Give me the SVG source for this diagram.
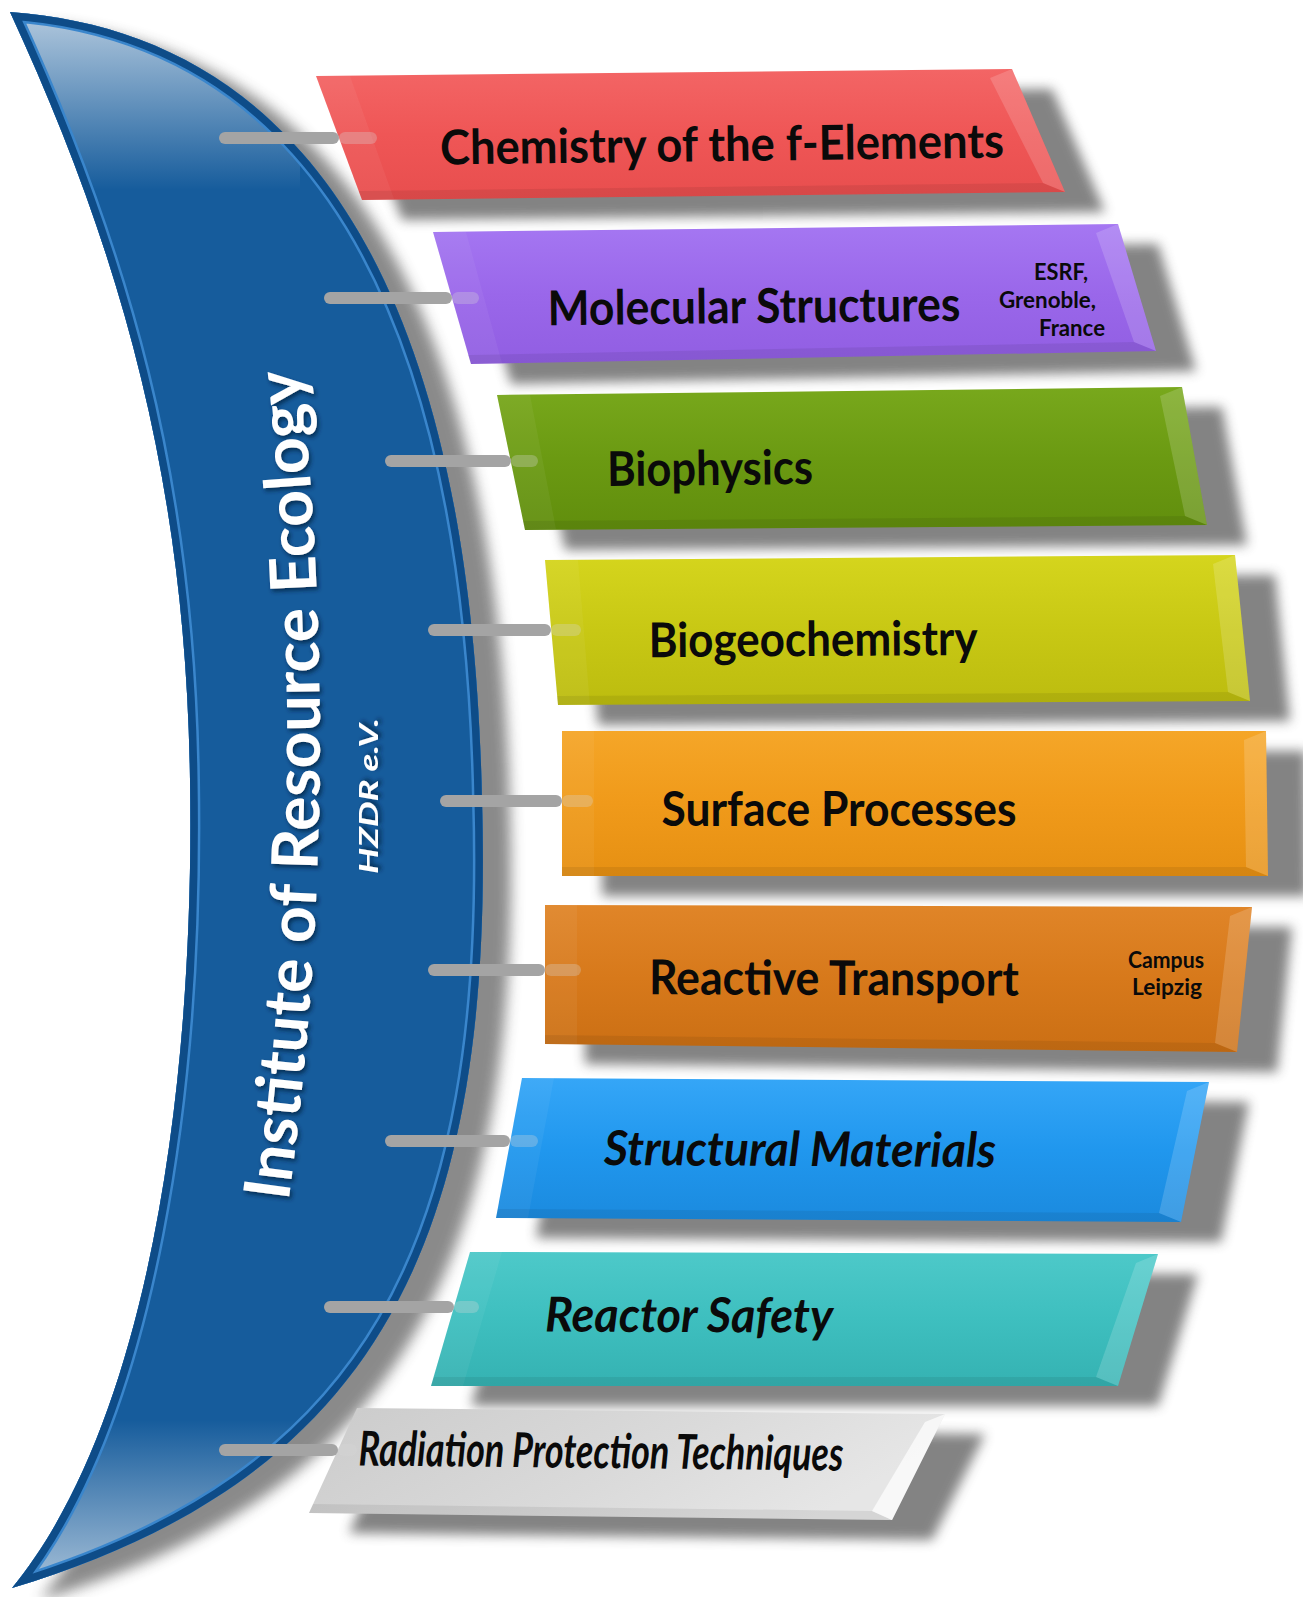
<svg xmlns="http://www.w3.org/2000/svg" width="1303" height="1597" viewBox="0 0 1303 1597">
<defs>
<style>
.lbl{font-family:Lato,"Open Sans","Liberation Sans",sans-serif;font-weight:700;fill:#0a0a0a;font-size:48px}
.it{font-style:italic}
.sm{font-size:23px}
.title{font-family:Lato,"Open Sans","Liberation Sans",sans-serif;font-weight:700;fill:#ffffff;font-size:64px}
.sub{font-family:Lato,"Open Sans","Liberation Sans",sans-serif;font-weight:700;font-style:italic;fill:#ffffff;font-size:27px}
.shd{fill:#767676;opacity:.9;filter:url(#blur)}
.bevR{fill:#ffffff;opacity:.16}
.bevB{fill:#000000;opacity:.07}
.bevL{fill:#ffffff;opacity:.05}
.conn{stroke:#a4a4a4;stroke-width:12;stroke-linecap:round;fill:none}
.connT{stroke:#d8d8d8;stroke-width:12;stroke-linecap:round;fill:none;opacity:.3}
</style>
<filter id="blur" x="-10%" y="-20%" width="120%" height="140%"><feGaussianBlur stdDeviation="6"/></filter>
<filter id="blurC" x="-20%" y="-5%" width="140%" height="110%"><feGaussianBlur stdDeviation="7"/></filter>
<filter id="tshadow" x="-10%" y="-30%" width="120%" height="160%"><feDropShadow dx="2" dy="3" stdDeviation="2" flood-color="#06223f" flood-opacity="0.75"/></filter>
<clipPath id="cres"><path d="M10,12 C260,30 470,220 482,800 C495,1250 370,1480 12,1588 C150,1420 195,1080 190,780 C186,480 120,250 10,12 Z"/></clipPath>
<linearGradient id="hlTop" gradientUnits="userSpaceOnUse" x1="0" y1="12" x2="0" y2="190"><stop offset="0" stop-color="#e8eef4" stop-opacity=".75"/><stop offset="1" stop-color="#e8eef4" stop-opacity="0"/></linearGradient>
<linearGradient id="hlBot" gradientUnits="userSpaceOnUse" x1="0" y1="1590" x2="0" y2="1420"><stop offset="0" stop-color="#e8eef4" stop-opacity=".7"/><stop offset="1" stop-color="#e8eef4" stop-opacity="0"/></linearGradient>
<linearGradient id="hlSide" gradientUnits="userSpaceOnUse" x1="0" y1="0" x2="260" y2="0"><stop offset="0" stop-color="#ffffff" stop-opacity=".9"/><stop offset="1" stop-color="#ffffff" stop-opacity="0"/></linearGradient>
<linearGradient id="g1" x1="0" y1="0" x2="0" y2="1"><stop offset="0" stop-color="#f36565"/><stop offset=".5" stop-color="#ef5656"/><stop offset="1" stop-color="#e84e4e"/></linearGradient>
<linearGradient id="g2" x1="0" y1="0" x2="0" y2="1"><stop offset="0" stop-color="#a577f2"/><stop offset=".5" stop-color="#9a67ea"/><stop offset="1" stop-color="#915ee2"/></linearGradient>
<linearGradient id="g3" x1="0" y1="0" x2="0" y2="1"><stop offset="0" stop-color="#78a81c"/><stop offset=".5" stop-color="#6b9a12"/><stop offset="1" stop-color="#618e0d"/></linearGradient>
<linearGradient id="g4" x1="0" y1="0" x2="0" y2="1"><stop offset="0" stop-color="#d5d51d"/><stop offset=".5" stop-color="#c8c814"/><stop offset="1" stop-color="#bcbc0f"/></linearGradient>
<linearGradient id="g5" x1="0" y1="0" x2="0" y2="1"><stop offset="0" stop-color="#f5a628"/><stop offset=".5" stop-color="#f09a1a"/><stop offset="1" stop-color="#e69013"/></linearGradient>
<linearGradient id="g6" x1="0" y1="0" x2="0" y2="1"><stop offset="0" stop-color="#e08528"/><stop offset=".5" stop-color="#d7791b"/><stop offset="1" stop-color="#cb6f14"/></linearGradient>
<linearGradient id="g7" x1="0" y1="0" x2="0" y2="1"><stop offset="0" stop-color="#35a6f7"/><stop offset=".5" stop-color="#2097ee"/><stop offset="1" stop-color="#1b8ade"/></linearGradient>
<linearGradient id="g8" x1="0" y1="0" x2="0" y2="1"><stop offset="0" stop-color="#4dc9c9"/><stop offset=".5" stop-color="#3ebfbf"/><stop offset="1" stop-color="#35b2b2"/></linearGradient>
<linearGradient id="g9" x1="0" y1="0" x2="1" y2="0.3"><stop offset="0" stop-color="#cbcbcb"/><stop offset=".6" stop-color="#dadada"/><stop offset="1" stop-color="#e6e6e6"/></linearGradient>
</defs>
<rect width="1303" height="1597" fill="#ffffff"/>

<g id="institute">
<path d="M10,12 C260,30 470,220 482,800 C495,1250 370,1480 12,1588 C150,1420 195,1080 190,780 C186,480 120,250 10,12 Z" transform="translate(28,12)" fill="#7e7e7e" opacity=".9" filter="url(#blurC)"/>
<path d="M10,12 C260,30 470,220 482,800 C495,1250 370,1480 12,1588 C150,1420 195,1080 190,780 C186,480 120,250 10,12 Z" fill="#165c9c"/>
<g clip-path="url(#cres)">
<rect x="0" y="0" width="300" height="200" fill="url(#hlTop)"/>
<rect x="0" y="1410" width="300" height="187" fill="url(#hlBot)"/>
<path d="M10,12 C260,30 470,220 482,800 C495,1250 370,1480 12,1588 C150,1420 195,1080 190,780 C186,480 120,250 10,12 Z" fill="none" stroke="#3a86cc" stroke-width="20"/>
<path d="M10,12 C260,30 470,220 482,800 C495,1250 370,1480 12,1588 C150,1420 195,1080 190,780 C186,480 120,250 10,12 Z" fill="none" stroke="#0e4c88" stroke-width="15"/>
</g>
<path id="arc" d="M288,1205 Q345,790 300,365" fill="none"/>
<text class="title" filter="url(#tshadow)"><textPath href="#arc" startOffset="50%" text-anchor="middle" textLength="835" lengthAdjust="spacingAndGlyphs">Institute of Resource Ecology</textPath></text>
<text class="sub" transform="translate(378,796) rotate(-90)" text-anchor="middle" textLength="156" lengthAdjust="spacingAndGlyphs" filter="url(#tshadow)">HZDR e.V.</text>
</g>

<g id="chemistry">
<polygon class="shd" points="356,96 1052,89 1105,212 402,220"/>
<polygon points="316,76 1012,69 1065,192 362,200" fill="url(#g1)"/>
<polygon class="bevL" points="316,76 350,76 394,199 362,200"/>
<polygon class="bevB" points="359,191 1043,183 1065,192 362,200"/>
<polygon class="bevR" points="1012,69 1065,192 1043,183 990,78"/>
<text class="lbl" x="722" y="161" font-size="46" text-anchor="middle" textLength="564" lengthAdjust="spacingAndGlyphs" transform="rotate(-0.7 722 146)">Chemistry of the f-Elements</text>
</g>

<g id="molecular">
<polygon class="shd" points="473,252 1158,244 1196,371 511,384"/>
<polygon points="433,232 1118,224 1156,351 471,364" fill="url(#g2)"/>
<polygon class="bevL" points="433,232 466,232 502,363 471,364"/>
<polygon class="bevB" points="468,355 1134,342 1156,351 471,364"/>
<polygon class="bevR" points="1118,224 1156,351 1134,342 1096,233"/>
<text class="lbl" x="754" y="323" text-anchor="middle" textLength="413" lengthAdjust="spacingAndGlyphs" transform="rotate(-0.6 754 305)">Molecular Structures</text>
<text class="lbl sm" x="1088" y="280" text-anchor="end" textLength="54" lengthAdjust="spacingAndGlyphs">ESRF,</text>
<text class="lbl sm" x="1096" y="308" text-anchor="end" textLength="97" lengthAdjust="spacingAndGlyphs">Grenoble,</text>
<text class="lbl sm" x="1105" y="336" text-anchor="end" textLength="66" lengthAdjust="spacingAndGlyphs">France</text>
</g>

<g id="biophysics">
<polygon class="shd" points="537,415 1222,407 1247,545 565,550"/>
<polygon points="497,395 1182,387 1207,525 525,530" fill="url(#g3)"/>
<polygon class="bevL" points="497,395 530,395 556,529 525,530"/>
<polygon class="bevB" points="523,521 1185,516 1207,525 525,530"/>
<polygon class="bevR" points="1182,387 1207,525 1185,516 1160,396"/>
<text class="lbl" x="710" y="485" text-anchor="middle" textLength="206" lengthAdjust="spacingAndGlyphs" transform="rotate(-0.6 710 467)">Biophysics</text>
</g>

<g id="biogeochemistry">
<polygon class="shd" points="585,580 1275,575 1290,721 598,725"/>
<polygon points="545,560 1235,555 1250,701 558,705" fill="url(#g4)"/>
<polygon class="bevL" points="545,560 578,560 590,705 558,705"/>
<polygon class="bevB" points="557,696 1228,692 1250,701 558,705"/>
<polygon class="bevR" points="1235,555 1250,701 1228,692 1213,564"/>
<text class="lbl" x="813" y="656" text-anchor="middle" textLength="329" lengthAdjust="spacingAndGlyphs" transform="rotate(-0.4 813 638)">Biogeochemistry</text>
</g>

<g id="surface">
<polygon class="shd" points="602,751 1306,751 1308,896 602,896"/>
<polygon points="562,731 1266,731 1268,876 562,876" fill="url(#g5)"/>
<polygon class="bevL" points="562,731 594,731 594,876 562,876"/>
<polygon class="bevB" points="562,867 1246,867 1268,876 562,876"/>
<polygon class="bevR" points="1266,731 1268,876 1246,867 1244,740"/>
<text class="lbl" x="839" y="826" text-anchor="middle" textLength="355" lengthAdjust="spacingAndGlyphs">Surface Processes</text>
</g>

<g id="reactive">
<polygon class="shd" points="585,925 1292,927 1277,1072 585,1064"/>
<polygon points="545,905 1252,907 1237,1052 545,1044" fill="url(#g6)"/>
<polygon class="bevL" points="545,905 577,905 577,1044 545,1044"/>
<polygon class="bevB" points="545,1035 1215,1043 1237,1052 545,1044"/>
<polygon class="bevR" points="1252,907 1237,1052 1215,1043 1230,916"/>
<text class="lbl" x="834" y="995" text-anchor="middle" textLength="370" lengthAdjust="spacingAndGlyphs" transform="rotate(0.2 834 977)">Reactive Transport</text>
<text class="lbl sm" x="1166" y="968" text-anchor="middle" textLength="76" lengthAdjust="spacingAndGlyphs">Campus</text>
<text class="lbl sm" x="1167" y="995" text-anchor="middle" textLength="70" lengthAdjust="spacingAndGlyphs">Leipzig</text>
</g>

<g id="structural">
<polygon class="shd" points="562,1098 1249,1102 1221,1242 536,1238"/>
<polygon points="522,1078 1209,1082 1181,1222 496,1218" fill="url(#g7)"/>
<polygon class="bevL" points="522,1078 554,1078 528,1218 496,1218"/>
<polygon class="bevB" points="498,1209 1159,1213 1181,1222 496,1218"/>
<polygon class="bevR" points="1209,1082 1181,1222 1159,1213 1187,1091"/>
<text class="lbl it" x="800" y="1166" text-anchor="middle" textLength="392" lengthAdjust="spacingAndGlyphs" transform="rotate(0.3 800 1148)">Structural Materials</text>
</g>

<g id="reactor">
<polygon class="shd" points="510,1272 1198,1274 1158,1406 471,1406"/>
<polygon points="470,1252 1158,1254 1118,1386 431,1386" fill="url(#g8)"/>
<polygon class="bevL" points="470,1252 502,1252 463,1386 431,1386"/>
<polygon class="bevB" points="434,1377 1096,1377 1118,1386 431,1386"/>
<polygon class="bevR" points="1158,1254 1118,1386 1096,1377 1136,1263"/>
<text class="lbl it" x="689" y="1332" text-anchor="middle" textLength="288" lengthAdjust="spacingAndGlyphs" transform="rotate(0.2 689 1314)">Reactor Safety</text>
</g>

<g id="radiation">
<polygon class="shd" points="397,1428 985,1434 932,1540 349,1533"/>
<polygon points="357,1408 945,1414 892,1520 309,1513" fill="url(#g9)"/>
<polygon class="bevB" points="313,1504 872,1511 892,1520 309,1513"/>
<polygon points="945,1414 892,1520 872,1511 925,1422" fill="#ffffff" opacity=".7"/>
<text class="lbl it" x="601" y="1468" font-size="38" text-anchor="middle" textLength="485" lengthAdjust="spacingAndGlyphs" transform="rotate(0.6 601 1455)">Radiation Protection Techniques</text>
</g>

<g id="connectors">
<line class="conn" x1="225" y1="138" x2="333" y2="138"/><line class="connT" x1="345" y1="138" x2="371" y2="138"/>
<line class="conn" x1="330" y1="298" x2="446" y2="298"/><line class="connT" x1="458" y1="298" x2="473" y2="298"/>
<line class="conn" x1="391" y1="461" x2="505" y2="461"/><line class="connT" x1="517" y1="461" x2="532" y2="461"/>
<line class="conn" x1="434" y1="630" x2="545" y2="630"/><line class="connT" x1="557" y1="630" x2="575" y2="630"/>
<line class="conn" x1="446" y1="801" x2="556" y2="801"/><line class="connT" x1="568" y1="801" x2="587" y2="801"/>
<line class="conn" x1="434" y1="970" x2="539" y2="970"/><line class="connT" x1="551" y1="970" x2="575" y2="970"/>
<line class="conn" x1="391" y1="1141" x2="504" y2="1141"/><line class="connT" x1="516" y1="1141" x2="532" y2="1141"/>
<line class="conn" x1="330" y1="1307" x2="448" y2="1307"/><line class="connT" x1="460" y1="1307" x2="473" y2="1307"/>
<line class="conn" x1="225" y1="1450" x2="332" y2="1450"/><line class="connT" x1="344" y1="1450" x2="351" y2="1450"/>
</g>
</svg>
